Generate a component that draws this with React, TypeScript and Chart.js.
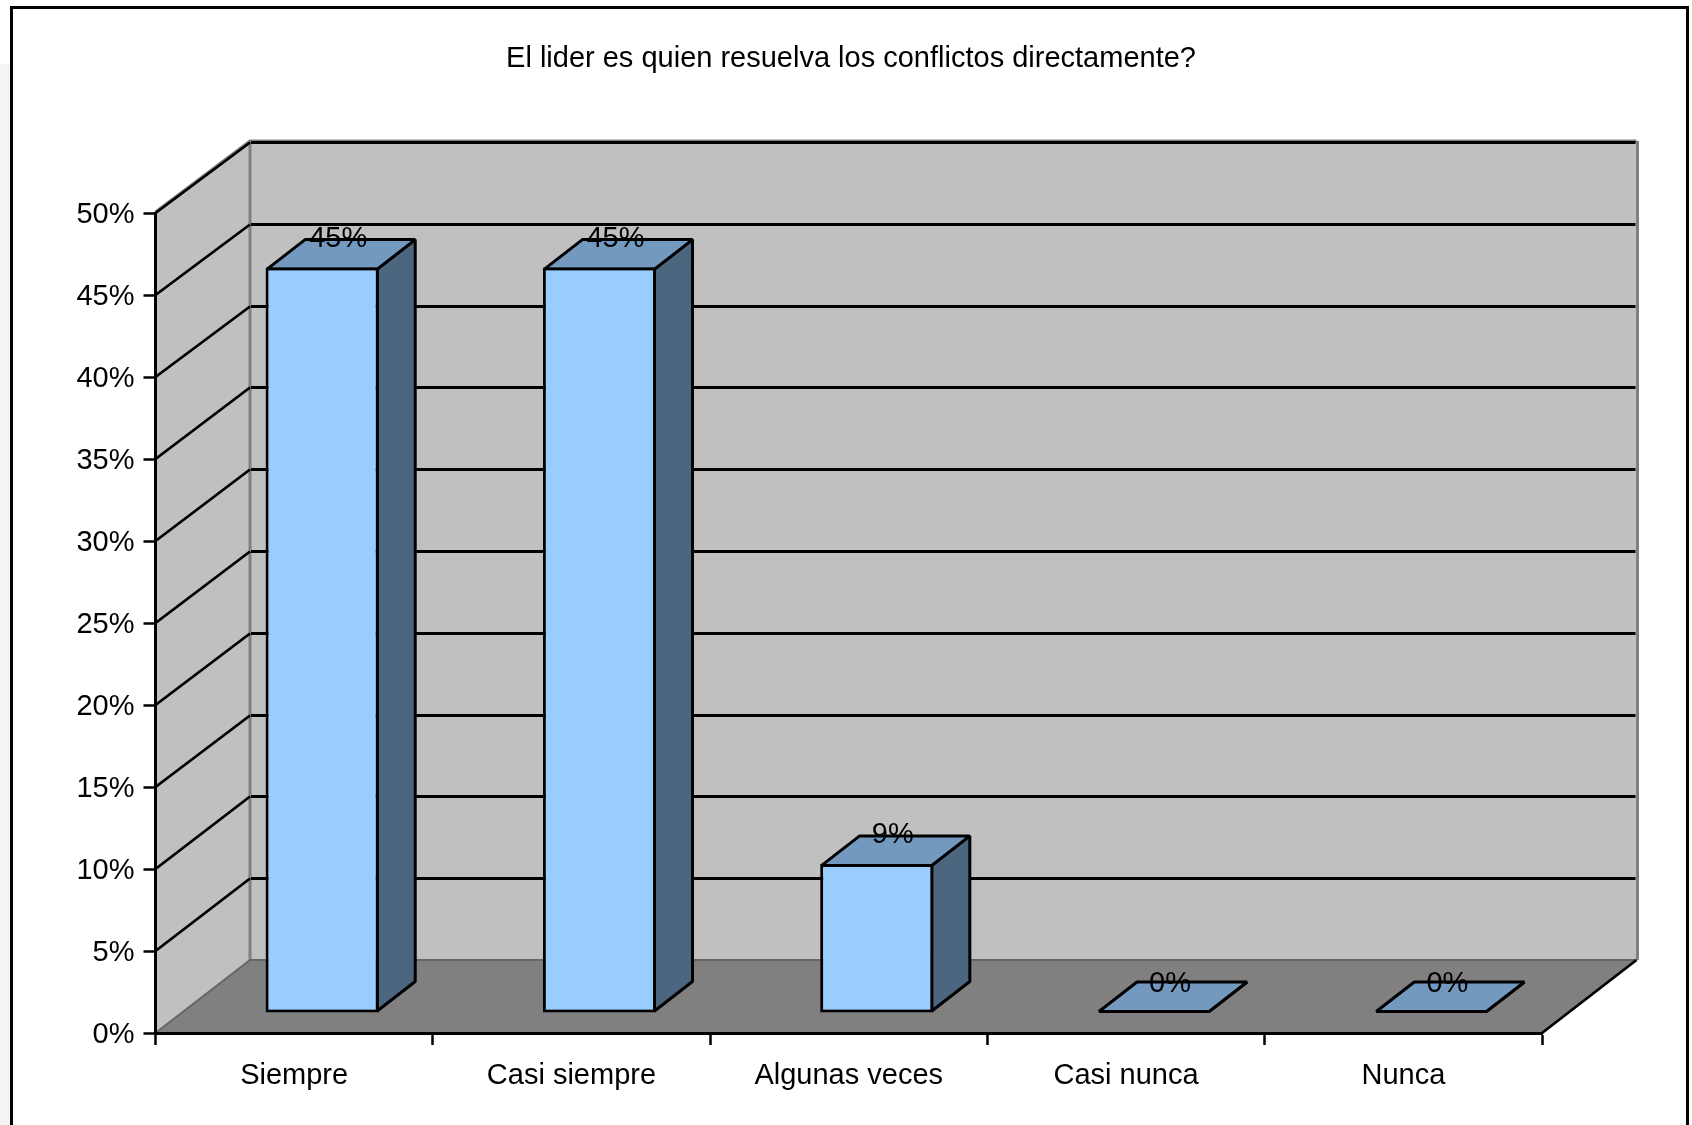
import React, { useEffect, useRef } from "react";
import { Chart, registerables } from "chart.js";

Chart.register(...registerables);

const chartTitle = "El lider es quien resuelva los conflictos directamente?";
const categories = ["Siempre", "Casi siempre", "Algunas veces", "Casi nunca", "Nunca"];
const percentValues = [45.45, 45.45, 9.09, 0, 0];
const axisMax = 50;
const axisStep = 5;

const FONT = "'Liberation Sans', Arial, sans-serif";
const WALL = "#C0C0C0";
const FLOOR = "#808080";
const EDGE = "#808080";
const TOP = "#7399BF";
const SIDE = "#4D6680";

const WALL_DX = 94.5;
const WALL_DY_BOTTOM = 73;
const WALL_DY_TOP = 71;
const BAR_SHIFT_X = 28;
const BAR_SHIFT_Y = 20;
const BAR_DX = 38;
const BAR_DY = 29.5;

function poly(ctx: any, pts: number[][], fill?: string, stroke?: string, lw = 2) {
  ctx.beginPath();
  pts.forEach((p, i) => (i ? ctx.lineTo(p[0], p[1]) : ctx.moveTo(p[0], p[1])));
  if (fill) {
    ctx.closePath();
    ctx.fillStyle = fill;
    ctx.fill();
  }
  if (stroke) {
    ctx.strokeStyle = stroke;
    ctx.lineWidth = lw;
    ctx.lineJoin = "bevel";
    ctx.stroke();
  }
}

const box3d = {
  id: "box3d",
  beforeDraw(chart: any) {
    const { ctx, chartArea: a, scales } = chart;
    const y = scales.y;
    const L = a.left, R = a.right, T = a.top, B = a.bottom;
    const dx = WALL_DX;
    const backY = (v: number) =>
      y.getPixelForValue(v) - (WALL_DY_BOTTOM + ((WALL_DY_TOP - WALL_DY_BOTTOM) * v) / axisMax);
    const bT = backY(axisMax);
    const bB = backY(0);
    ctx.save();
    ctx.fillStyle = "#FFFFFF";
    ctx.fillRect(0, 0, chart.width, chart.height);
    ctx.fillStyle = "#F4F4F4";
    ctx.fillRect(0, 64, 10, chart.height - 64);
    ctx.strokeStyle = "#000";
    ctx.lineWidth = 3;
    ctx.strokeRect(11.5, 7.5, 1676, 1140);

    poly(ctx, [[L + dx, bT], [R + dx, bT], [R + dx, bB], [L + dx, bB]], WALL);
    poly(ctx, [[L, B], [L + dx, bB], [L + dx, bT], [L, T]], WALL);
    poly(ctx, [[L, B], [L + dx, bB], [R + dx, bB], [R, B]], FLOOR);

    // wall edges
    poly(ctx, [[L, T - 1], [L + dx, bT - 1], [R + dx, bT - 1]], undefined, EDGE, 3);
    poly(ctx, [[L + dx, bT], [L + dx, bB]], undefined, EDGE, 3);
    poly(ctx, [[R + dx + 1, bT - 1], [R + dx + 1, bB]], undefined, EDGE, 3);
    poly(ctx, [[L + dx, bB], [R + dx, bB]], undefined, "#666666", 2);
    poly(ctx, [[L, B], [L + dx, bB]], undefined, "#666666", 2);

    // gridlines on side and back walls
    for (let v = axisStep; v <= axisMax; v += axisStep) {
      const py = y.getPixelForValue(v);
      const by = Math.round(backY(v)) + 0.5;
      poly(ctx, [[L, py], [L + dx, by]], undefined, "#000", 2.8);
      poly(ctx, [[L + dx + 1, by], [R + dx - 1, by]], undefined, "#000", 3);
    }
    // floor right edge
    poly(ctx, [[R, B], [R + dx, bB]], undefined, "#000", 2.8);
    ctx.restore();
  },
  beforeDatasetDraw(chart: any, args: any) {
    const { ctx } = chart;
    const meta = chart.getDatasetMeta(args.index);
    ctx.save();
    meta.data.forEach((bar: any) => {
      const { x, y, base, width } = bar.getProps(["x", "y", "base", "width"], true);
      const x0 = x - width / 2 + BAR_SHIFT_X + 1.5;
      const x1 = x + width / 2 + BAR_SHIFT_X - 1.5;
      const bot = base - BAR_SHIFT_Y - 1.5;
      const t = Math.min(y - BAR_SHIFT_Y + 1.5, bot);
      poly(ctx, [[x1, t], [x1 + BAR_DX, t - BAR_DY], [x1 + BAR_DX, bot - BAR_DY], [x1, bot]], SIDE, "#000", 3);
      poly(ctx, [[x0, t], [x0 + BAR_DX, t - BAR_DY], [x1 + BAR_DX, t - BAR_DY], [x1, t]], TOP, "#000", 3);
    });
    ctx.restore();
    ctx.save();
    ctx.translate(BAR_SHIFT_X, -BAR_SHIFT_Y);
  },
  afterDatasetDraw(chart: any) {
    chart.ctx.restore();
  },
  afterDatasetsDraw(chart: any) {
    const { ctx } = chart;
    const meta = chart.getDatasetMeta(0);
    ctx.save();
    ctx.font = `29px ${FONT}`;
    ctx.fillStyle = "#000";
    ctx.textAlign = "center";
    ctx.textBaseline = "middle";
    meta.data.forEach((bar: any, i: number) => {
      const { x, y } = bar.getProps(["x", "y"], true);
      ctx.fillText(`${Math.round(percentValues[i])}%`, x + BAR_SHIFT_X + 16, y - BAR_SHIFT_Y - 29);
    });
    ctx.restore();
  },
};

export default function App() {
  const ref = useRef<HTMLCanvasElement | null>(null);
  useEffect(() => {
    const chart = new Chart(ref.current as HTMLCanvasElement, {
      type: "bar",
      data: {
        labels: categories,
        datasets: [
          {
            label: "Respuestas",
            data: percentValues,
            backgroundColor: "#99CCFF",
            borderColor: "#000000",
            borderWidth: 3,
            borderSkipped: false,
            barPercentage: 0.408,
            categoryPercentage: 1,
            clip: false,
          } as any,
        ],
      },
      plugins: [box3d],
      options: {
        animation: false,
        responsive: false,
        layout: { padding: { left: 10, right: 0, top: 0, bottom: 0 } },
        plugins: {
          legend: { display: false },
          tooltip: { enabled: false },
          title: {
            display: true,
            text: chartTitle,
            color: "#000",
            font: { family: FONT, size: 29, weight: "normal" },
            padding: { top: 42, bottom: 136.2 },
          },
        },
        scales: {
          x: {
            type: "category",
            offset: true,
            grid: {
              offset: true,
              drawOnChartArea: false,
              drawTicks: true,
              tickLength: 12,
              tickColor: "#000",
              tickWidth: 2.5,
            },
            border: { display: true, color: "#000", width: 3 },
            ticks: {
              color: "#000",
              font: { family: FONT, size: 29 },
              padding: 14,
              autoSkip: false,
              maxRotation: 0,
              minRotation: 0,
            },
            afterFit: (s: any) => {
              s.height = 92;
            },
          },
          y: {
            type: "linear",
            min: 0,
            max: axisMax,
            grid: {
              drawOnChartArea: false,
              drawTicks: true,
              tickLength: 12,
              tickColor: "#000",
              tickWidth: 2.5,
            },
            border: { display: true, color: "#000", width: 3 },
            ticks: {
              stepSize: axisStep,
              color: "#000",
              font: { family: FONT, size: 29 },
              padding: 9,
              callback: (v: any) => `${v}%`,
            },
            afterFit: (s: any) => {
              s.width = 145.5;
            },
            afterUpdate: (s: any) => {
              if (s.__shifted) return;
              s.__shifted = true;
              const drawLabels = s.drawLabels;
              s.drawLabels = function (area: any) {
                s.ctx.save();
                s.ctx.translate(0, 1.5);
                drawLabels.call(s, area);
                s.ctx.restore();
              };
            },
          },
          rightGutter: {
            type: "linear",
            position: "right",
            display: true,
            grid: { display: false },
            border: { display: false },
            ticks: { display: false },
            afterFit: (s: any) => {
              s.width = 150;
            },
          },
        },
      } as any,
    });
    return () => chart.destroy();
  }, []);
  return (
    <div style={{ position: "absolute", left: 0, top: 0, width: 1692, height: 1125, overflow: "hidden" }}>
      <canvas ref={ref} width={1692} height={1125} style={{ display: "block" }} />
    </div>
  );
}
